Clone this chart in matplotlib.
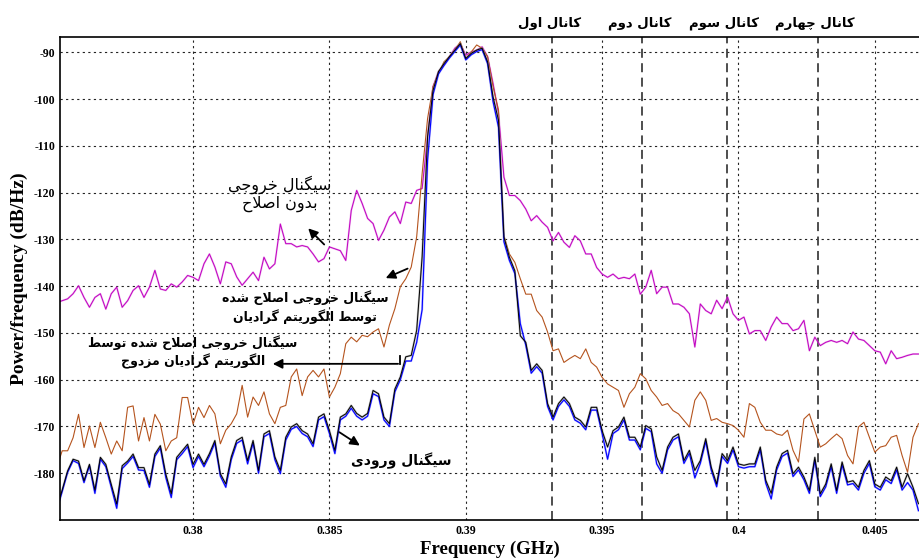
import numpy as np
import matplotlib
matplotlib.use('Agg')
import matplotlib.pyplot as plt

plt.rcParams['axes.unicode_minus'] = False
plt.rcParams['font.family'] = ['Liberation Serif', 'DejaVu Sans']

# Frequency grid (GHz), one value every 0.2 MHz.
freq = np.round(0.375 + 0.0002 * np.arange(159), 4)

# Output signal without correction (magenta).
psd_uncorrected = [
    -143.5, -143.1, -142.7, -141.6, -139.9, -142.4, -144.5, -142.4, -141.6, -144.9,
    -141.6, -140.2, -144.5, -143.1, -140.9, -139.9, -142.4, -140.2, -136.6, -140.6,
    -140.9, -139.5, -140.2, -139.1, -137.7, -138.1, -138.8, -135.2, -133.1, -135.9,
    -139.5, -134.8, -135.2, -138.0, -139.8, -138.4, -137.0, -138.8, -133.8, -136.3,
    -135.2, -126.7, -130.9, -130.9, -131.6, -131.3, -131.6, -133.1, -134.8, -134.1,
    -131.6, -132.0, -132.4, -134.5, -123.8, -119.5, -122.3, -125.5, -126.6, -130.2,
    -128.0, -125.2, -124.1, -126.6, -122.0, -122.3, -119.5, -119.1, -108.0, -97.3,
    -94.1, -92.7, -90.9, -89.1, -88.1, -90.6, -89.9, -89.5, -88.8, -90.9,
    -96.6, -103.0, -116.7, -120.6, -120.6, -121.7, -123.5, -126.0, -124.9, -126.3,
    -127.4, -130.3, -128.5, -130.6, -131.7, -129.2, -130.3, -133.1, -133.1, -136.0,
    -137.4, -138.1, -137.4, -138.4, -138.1, -138.4, -137.4, -141.7, -140.2, -136.6,
    -141.6, -140.2, -140.2, -143.8, -143.8, -144.5, -145.9, -153.0, -143.8, -145.2,
    -145.9, -143.0, -144.8, -142.3, -145.9, -147.3, -146.6, -150.2, -149.5, -149.5,
    -151.6, -148.7, -146.6, -148.0, -148.0, -149.5, -149.1, -147.3, -153.8, -150.9,
    -152.7, -152.0, -151.6, -152.0, -151.6, -152.3, -149.8, -151.3, -151.6, -152.7,
    -153.8, -154.1, -156.6, -153.8, -155.5, -155.2, -154.8, -154.5, -154.5,
]

# Output corrected by the gradient algorithm (brown).
psd_gradient = [
    -178.8, -175.2, -175.2, -172.4, -167.4, -174.5, -169.9, -174.5, -169.1, -172.4,
    -175.9, -173.1, -175.2, -165.9, -165.6, -173.1, -168.1, -173.1, -167.4, -169.5,
    -175.2, -173.1, -172.4, -163.8, -163.8, -169.5, -165.9, -168.1, -165.5, -167.3,
    -173.7, -170.8, -169.4, -167.3, -161.2, -168.0, -163.7, -165.5, -162.6, -167.3,
    -169.4, -165.9, -165.5, -159.4, -157.7, -163.4, -159.4, -158.0, -159.4, -157.7,
    -163.7, -161.6, -158.7, -152.3, -150.9, -151.9, -150.5, -150.8, -149.8, -149.1,
    -153.0, -148.3, -144.8, -140.1, -138.4, -135.9, -129.4, -115.9, -104.1, -97.3,
    -94.5, -92.0, -90.9, -89.5, -87.7, -91.3, -89.9, -88.4, -89.1, -90.9,
    -97.3, -102.3, -129.2, -133.1, -134.9, -138.4, -141.7, -141.7, -145.2, -146.6,
    -149.8, -153.8, -153.4, -156.3, -155.5, -154.8, -155.5, -153.4, -156.3, -157.3,
    -159.5, -160.9, -161.6, -162.3, -165.9, -163.0, -161.6, -158.7, -159.8, -162.3,
    -163.7, -165.5, -165.1, -166.6, -167.3, -168.7, -170.1, -164.4, -162.6, -164.4,
    -168.7, -168.3, -169.1, -169.4, -169.8, -170.8, -172.3, -165.1, -165.9, -169.1,
    -170.8, -170.8, -171.6, -171.9, -170.8, -175.1, -177.6, -168.4, -167.3, -170.9,
    -174.4, -173.7, -172.6, -171.6, -172.6, -176.2, -178.0, -170.1, -169.1, -172.3,
    -175.5, -174.4, -174.1, -172.3, -171.9, -176.2, -179.8, -172.3, -169.4,
]

# Output corrected by the conjugate gradient algorithm (blue).
psd_conjugate = [
    -188.0, -183.9, -179.8, -177.3, -177.9, -182.0, -178.4, -184.3, -177.0, -178.6,
    -183.0, -187.5, -179.0, -177.8, -176.4, -179.3, -179.4, -183.0, -176.4, -174.6,
    -180.9, -185.2, -177.1, -175.8, -174.3, -178.8, -176.4, -178.6, -176.3, -173.5,
    -180.6, -183.0, -177.1, -173.6, -172.9, -178.0, -173.5, -180.0, -172.2, -171.5,
    -177.1, -180.1, -172.9, -170.6, -170.0, -171.5, -172.2, -174.3, -168.6, -167.9,
    -171.5, -175.8, -168.6, -167.8, -166.1, -167.8, -168.6, -167.8, -163.0, -163.6,
    -168.6, -170.0, -162.6, -160.0, -156.0, -156.0, -152.0, -145.0, -113.0, -99.0,
    -94.6, -92.8, -91.2, -89.8, -88.4, -91.6, -90.5, -89.8, -89.4, -92.4,
    -100.5, -106.0, -130.5, -134.5, -137.3, -148.0, -152.6, -158.6, -157.2, -158.6,
    -165.7, -168.6, -165.7, -164.3, -165.7, -168.6, -169.3, -170.7, -166.5, -166.5,
    -171.5, -177.0, -171.5, -170.7, -168.6, -172.9, -172.9, -175.0, -170.4, -171.1,
    -178.0, -180.0, -175.0, -172.9, -172.2, -177.9, -175.7, -181.0, -177.9, -173.2,
    -179.3, -182.9, -176.4, -177.9, -175.0, -178.6, -178.9, -178.6, -178.6, -175.0,
    -182.1, -185.5, -179.3, -176.4, -175.7, -180.7, -179.3, -181.4, -184.3, -177.2,
    -185.0, -182.9, -178.6, -184.3, -178.2, -182.5, -182.2, -183.6, -180.0, -177.9,
    -182.9, -183.6, -181.4, -182.2, -179.3, -183.6, -182.0, -183.6, -188.0,
]

# Input signal (black).
psd_input = [
    -187.5, -183.6, -179.5, -177.0, -177.4, -181.6, -178.1, -183.6, -176.6, -178.1,
    -182.4, -186.6, -178.4, -177.4, -175.9, -178.8, -178.8, -182.4, -175.9, -174.1,
    -180.2, -184.4, -176.6, -175.2, -173.8, -178.1, -175.9, -178.1, -175.8, -173.0,
    -180.1, -182.3, -176.5, -173.0, -172.3, -177.3, -173.0, -179.4, -171.6, -170.9,
    -176.5, -179.4, -172.3, -170.1, -169.4, -170.9, -171.6, -173.7, -168.0, -167.3,
    -170.9, -175.1, -168.0, -167.3, -165.5, -167.2, -168.0, -167.2, -162.3, -163.0,
    -168.0, -169.4, -162.0, -159.4, -155.1, -154.8, -149.4, -133.7, -108.0, -98.1,
    -94.1, -92.4, -90.9, -89.5, -88.1, -91.3, -90.2, -89.5, -89.1, -92.0,
    -99.5, -104.5, -129.5, -133.8, -136.7, -150.6, -152.0, -158.0, -156.6, -158.0,
    -165.1, -168.0, -165.1, -163.7, -165.1, -168.0, -168.7, -170.1, -165.9, -165.9,
    -170.9, -174.4, -170.9, -170.1, -168.0, -172.3, -172.3, -174.4, -169.8, -170.5,
    -176.5, -179.4, -174.4, -172.3, -171.6, -177.3, -175.1, -179.4, -177.3, -172.6,
    -178.7, -182.3, -175.8, -177.3, -174.4, -178.0, -178.3, -178.0, -178.0, -174.4,
    -181.5, -184.3, -178.7, -175.8, -175.1, -180.1, -178.7, -180.8, -183.7, -176.6,
    -184.4, -182.3, -178.0, -183.7, -177.6, -181.9, -181.6, -183.0, -179.4, -177.3,
    -182.3, -183.0, -180.8, -181.6, -178.7, -183.0, -180.1, -183.0, -186.5,
]

# Channel boundaries (GHz) and their labels.
channel_edges = [0.39317, 0.39648, 0.39958, 0.4029]
channel_names = ['کانال اول', 'کانال دوم', 'کانال سوم', 'کانال چهارم']

x_ticks = [0.38, 0.385, 0.39, 0.395, 0.4, 0.405]
x_ticklabels = ['0.38', '0.385', '0.39', '0.395', '0.4', '0.405']
y_ticks = [-180, -170, -160, -150, -140, -130, -120, -110, -100, -90]


# matplotlib does not shape Arabic script: pick contextual forms by hand
# and reverse to visual order.
FORMS = {
    'ا': ('\uFE8D', '\uFE8E', None, None),
    'ب': ('\uFE8F', '\uFE90', '\uFE91', '\uFE92'),
    'ت': ('\uFE95', '\uFE96', '\uFE97', '\uFE98'),
    'ج': ('\uFE9D', '\uFE9E', '\uFE9F', '\uFEA0'),
    'ح': ('\uFEA1', '\uFEA2', '\uFEA3', '\uFEA4'),
    'خ': ('\uFEA5', '\uFEA6', '\uFEA7', '\uFEA8'),
    'د': ('\uFEA9', '\uFEAA', None, None),
    'ر': ('\uFEAD', '\uFEAE', None, None),
    'ز': ('\uFEAF', '\uFEB0', None, None),
    'س': ('\uFEB1', '\uFEB2', '\uFEB3', '\uFEB4'),
    'ش': ('\uFEB5', '\uFEB6', '\uFEB7', '\uFEB8'),
    'ص': ('\uFEB9', '\uFEBA', '\uFEBB', '\uFEBC'),
    'ط': ('\uFEC1', '\uFEC2', '\uFEC3', '\uFEC4'),
    'ل': ('\uFEDD', '\uFEDE', '\uFEDF', '\uFEE0'),
    'م': ('\uFEE1', '\uFEE2', '\uFEE3', '\uFEE4'),
    'ن': ('\uFEE5', '\uFEE6', '\uFEE7', '\uFEE8'),
    'ه': ('\uFEE9', '\uFEEA', '\uFEEB', '\uFEEC'),
    'و': ('\uFEED', '\uFEEE', None, None),
    'چ': ('\uFB7A', '\uFB7B', '\uFB7C', '\uFB7D'),
    'ک': ('\uFB8E', '\uFB8F', '\uFB90', '\uFB91'),
    'گ': ('\uFB92', '\uFB93', '\uFB94', '\uFB95'),
    'ی': ('\uFBFC', '\uFBFD', '\uFBFE', '\uFBFF'),
}


def shape_line(s):
    s = s.replace('\u064A', '\u06CC').replace('\u0643', '\u06A9')
    out = []
    i = 0
    while i < len(s):
        ch = s[i]
        if ch not in FORMS:
            out.append(ch)
            i += 1
            continue
        prev = s[i - 1] if i > 0 else ''
        nxt = s[i + 1] if i + 1 < len(s) else ''
        join_prev = prev in FORMS and FORMS[prev][2] is not None
        if ch == 'ل' and nxt == 'ا':
            out.append('\uFEFC' if join_prev else '\uFEFB')
            i += 2
            continue
        join_next = FORMS[ch][2] is not None and nxt in FORMS
        iso, fin, ini, med = FORMS[ch]
        if join_prev and join_next:
            out.append(med)
        elif join_prev:
            out.append(fin)
        elif join_next:
            out.append(ini)
        else:
            out.append(iso)
        i += 1
    return ''.join(out)[::-1]


def fa(text):
    return '\n'.join(shape_line(line) for line in text.split('\n'))


fig = plt.figure(figsize=(9.19, 5.59), dpi=100)
ax = fig.add_axes([60 / 919, 39 / 559, 859 / 919, 483 / 559])

# Spectra.
ax.plot(freq, psd_uncorrected, color='#e07ae0', lw=1.4, alpha=0.5)
ax.plot(freq, psd_uncorrected, color='#c000c0', lw=0.7)
ax.plot(freq, psd_gradient, color='#b5541e', lw=0.8)
ax.plot(freq, psd_conjugate, color='#8080ff', lw=1.5, alpha=0.6)
ax.plot(freq, psd_input, color='#909090', lw=1.5, alpha=0.6)
ax.plot(freq, psd_conjugate, color='#0000ff', lw=0.8)
ax.plot(freq, psd_input, color='black', lw=0.7)

# Channel boundaries.
for xc in channel_edges:
    ax.axvline(xc, color='#404040', lw=1.3, ls=(0, (5, 3)), zorder=1)
for xc, name in zip(channel_edges, channel_names):
    ax.text(xc - 0.0001, 1.028, fa(name), transform=ax.get_xaxis_transform(),
            ha='center', va='center', fontsize=9.5, fontweight='bold',
            family=['DejaVu Sans'])

ax.set_xlim(0.37512, 0.40662)
ax.set_ylim(-190, -86.7)
ax.set_xticks(x_ticks)
ax.set_xticklabels(x_ticklabels)
ax.set_yticks(y_ticks)
ax.grid(True, color='#222222', lw=0.8, ls=(0, (2, 3)))
ax.set_axisbelow(True)
ax.tick_params(length=0, pad=3.5, labelsize=8.5)
for lab in ax.get_xticklabels() + ax.get_yticklabels():
    lab.set_fontweight('bold')
ax.spines['right'].set_visible(False)
for sp in ['left', 'top', 'bottom']:
    ax.spines[sp].set_linewidth(1.2)

ax.set_xlabel('Frequency (GHz)', fontsize=13.5, fontweight='bold', labelpad=3)
ax.set_ylabel('Power/frequency (dB/Hz)', fontsize=14, fontweight='bold', labelpad=4)

# Annotations.
arrow = dict(arrowstyle='-|>', color='black', lw=1.3, mutation_scale=14)
ax.text(0.38318, -120.2, fa('سیگنال خروجی\nبدون اصلاح'), ha='center', va='center',
        fontsize=11.5, family=['DejaVu Sans'], linespacing=1.1)
ax.annotate('', xy=(0.38415, -127.2), xytext=(0.38488, -131.5), arrowprops=arrow)

ax.annotate('', xy=(0.38697, -138.5), xytext=(0.38796, -136.0), arrowprops=arrow)
ax.text(0.38411, -144.5, fa('سیگنال خروجی اصلاح شده\nتوسط الگوریتم گرادیان'),
        ha='center', va='center', fontsize=9, fontweight='bold',
        family=['DejaVu Sans'], linespacing=1.3)

ax.text(0.37999, -154.0, fa('سیگنال خروجی اصلاح شده توسط\nالگوریتم گرادیان مزدوج'),
        ha='center', va='center', fontsize=9, fontweight='bold',
        family=['DejaVu Sans'], linespacing=1.3)
ax.plot([0.38759, 0.38759], [-154.9, -156.6], color='black', lw=1.3)
ax.annotate('', xy=(0.38282, -156.6), xytext=(0.38762, -156.6), arrowprops=arrow)

ax.annotate('', xy=(0.3862, -174.4), xytext=(0.38528, -170.9), arrowprops=arrow)
ax.text(0.38763, -177.3, fa('سیگنال ورودی'), ha='center', va='center',
        fontsize=10, fontweight='bold', family=['DejaVu Sans'])

fig.savefig('out.png', dpi=100)
